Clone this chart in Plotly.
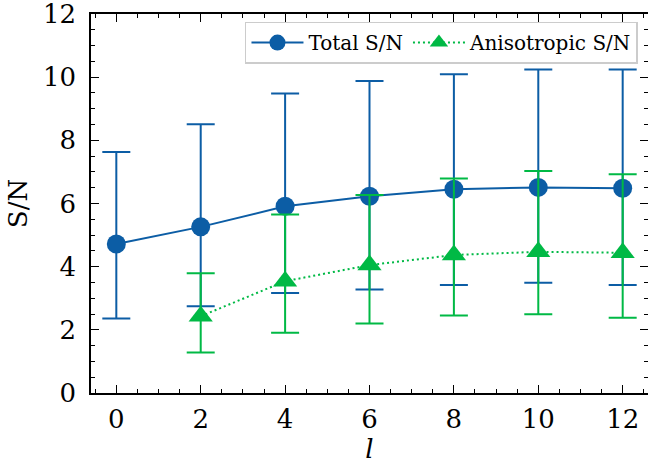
import plotly.graph_objects as go

# ---- data ----
l_total = [0, 2, 4, 6, 8, 10, 12]
total_sn = [4.72, 5.26, 5.91, 6.23, 6.45, 6.51, 6.48]
total_upper = [7.63, 8.51, 9.48, 9.88, 10.09, 10.24, 10.24]
total_lower = [2.36, 2.75, 3.17, 3.28, 3.42, 3.49, 3.42]

l_aniso = [2, 4, 6, 8, 10, 12]
aniso_sn = [2.43, 3.54, 4.05, 4.37, 4.47, 4.44]
aniso_upper = [3.79, 5.65, 6.27, 6.79, 7.03, 6.93]
aniso_lower = [1.28, 1.91, 2.20, 2.45, 2.49, 2.38]

x_ticks = [0, 2, 4, 6, 8, 10, 12]
y_ticks = [0, 2, 4, 6, 8, 10, 12]

BLUE = "#0C5DA5"
GREEN = "#00B945"
FONT = "DejaVu Serif"

fig = go.Figure()

fig.add_trace(go.Scatter(
    x=l_total, y=total_sn, name="Total S/N", mode="lines+markers",
    line=dict(color=BLUE, width=2),
    marker=dict(symbol="circle", size=19, color=BLUE),
    error_y=dict(type="data", symmetric=False,
                 array=[u - v for u, v in zip(total_upper, total_sn)],
                 arrayminus=[v - d for v, d in zip(total_sn, total_lower)],
                 color=BLUE, thickness=2, width=14),
))

fig.add_trace(go.Scatter(
    x=l_aniso, y=aniso_sn, name="Anisotropic S/N", mode="lines+markers",
    line=dict(color=GREEN, width=2, dash="2px,3px"),
    marker=dict(symbol="triangle-up", size=21, color=GREEN),
    error_y=dict(type="data", symmetric=False,
                 array=[u - v for u, v in zip(aniso_upper, aniso_sn)],
                 arrayminus=[v - d for v, d in zip(aniso_sn, aniso_lower)],
                 color=GREEN, thickness=2, width=14),
))

axis_common = dict(
    showline=True, linecolor="black", linewidth=1.5, mirror="ticks",
    ticks="inside", ticklen=8, tickwidth=1.3, tickcolor="black",
    showgrid=False, zeroline=False, automargin=False,
    ticklabeloverflow="allow",
    tickfont=dict(family=FONT, size=26, color="black"),
    minor=dict(ticks="inside", ticklen=4, tickwidth=1.1, tickcolor="black", dtick=0.5, showgrid=False),
)

fig.update_xaxes(
    range=[-0.6, 12.6], tickvals=x_ticks, ticktext=[str(v) for v in x_ticks],
    title=dict(text="<i>l</i>", font=dict(family=FONT, size=26, color="black"), standoff=4),
    ticklabelstandoff=2,
    **axis_common,
)
fig.update_yaxes(
    range=[0, 12], tickvals=y_ticks, ticktext=[str(v) for v in y_ticks],
    title=dict(text="S/N", font=dict(family=FONT, size=26, color="black"), standoff=8),
    ticklabelstandoff=8,
    **axis_common,
)

fig.update_layout(
    width=648, height=468,
    margin=dict(l=91, r=0, t=14, b=75),
    paper_bgcolor="white", plot_bgcolor="white",
    font=dict(family=FONT, color="black"),
    showlegend=True,
    legend=dict(
        orientation="h", x=0.982, xanchor="right", y=0.98, yanchor="top",
        bgcolor="white", bordercolor="#cccccc", borderwidth=1.5,
        font=dict(family=FONT, size=20, color="black"),
        itemwidth=52,
    ),
)

fig.write_html(
    "out.html",
    config={"displayModeBar": False},
    post_script="document.body.style.margin='0';document.body.style.overflow='hidden';",
)
